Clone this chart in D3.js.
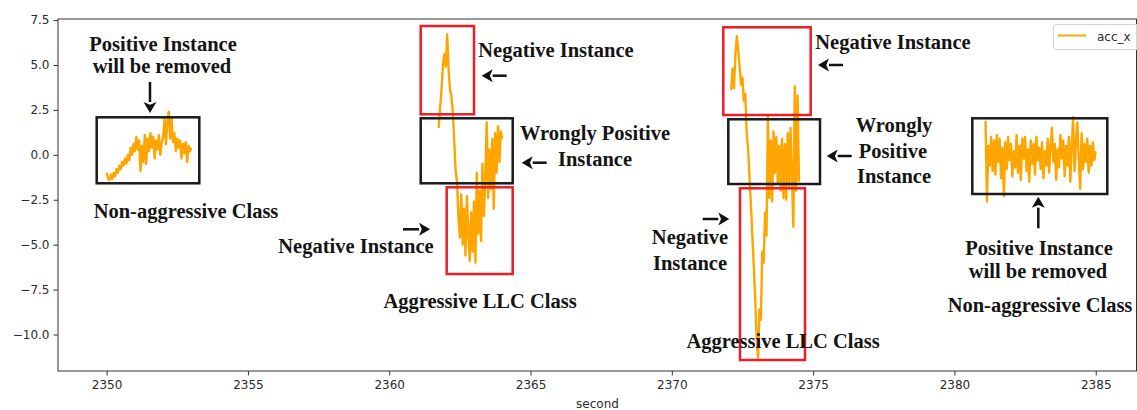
<!DOCTYPE html>
<html>
<head>
<meta charset="utf-8">
<script src="https://cdn.jsdelivr.net/npm/d3@7"></script>
<style>
  body { margin: 0; background: #fff; }
  svg { display: block; }
</style>
</head>
<body>
<svg id="chart" width="1137" height="410"></svg>
<script>
// acc_x recordings, four windows (seconds, acceleration)
const seg1Time = [2350.00,2350.05,2350.10,2350.15,2350.20,2350.25,2350.30,2350.35,2350.40,2350.45,
  2350.50,2350.55,2350.60,2350.65,2350.70,2350.75,2350.80,2350.85,2350.90,2350.95,
  2351.00,2351.05,2351.10,2351.15,2351.20,2351.25,2351.30,2351.35,2351.40,2351.45,
  2351.50,2351.55,2351.60,2351.65,2351.70,2351.75,2351.80,2351.85,2351.90,2351.95,
  2352.00,2352.05,2352.10,2352.15,2352.20,2352.25,2352.30,2352.35,2352.40,2352.45,
  2352.50,2352.55,2352.60,2352.65,2352.70,2352.75,2352.80,2352.85,2352.90,2352.95,2353.00];
const seg1Acc = [-1.0,-1.3,-1.4,-1.1,-1.35,-1.0,-1.2,-0.8,-1.0,-0.6,
  -0.8,-0.4,-0.6,-0.2,-0.5,0.0,-0.3,0.4,0.0,0.6,
  0.2,1.0,0.3,0.8,-0.9,0.5,-0.4,1.1,-0.5,0.9,
  0.2,1.2,0.4,1.0,-0.2,0.8,0.3,1.1,0.0,0.7,
  1.0,2.0,0.6,1.9,2.4,0.9,2.0,0.7,1.2,0.2,
  0.9,0.4,0.8,-0.2,0.6,0.1,0.7,-0.4,0.5,0.2,0.4];

const seg2Time = [2361.75,2361.80,2361.85,2361.90,2361.95,2362.00,2362.05,2362.10,2362.15,2362.20,
  2362.25,2362.30,2362.35,2362.40,2362.45,2362.50,2362.55,2362.60,2362.65,2362.70,
  2362.75,2362.80,2362.85,2362.90,2362.95,2363.00,2363.05,2363.10,2363.15,2363.20,
  2363.25,2363.30,2363.35,2363.40,2363.45,2363.50,2363.55,2363.60,2363.65,2363.70,
  2363.75,2363.80,2363.85,2363.90,2363.95,2364.00];
const seg2Acc = [1.5,2.6,3.6,5.0,5.6,4.9,6.7,4.8,3.6,3.3,
  2.4,0.8,-0.9,-1.5,-3.5,-4.6,-2.2,-5.0,-3.0,-5.6,
  -2.3,-4.4,-5.9,-3.2,-5.4,-2.6,-6.0,-1.0,-4.4,-2.0,
  -4.8,-0.5,-3.4,-1.2,1.8,-2.4,0.3,-1.9,0.9,-3.0,
  1.2,-1.0,1.6,-0.4,1.3,0.9];

const seg3Time = [2372.10,2372.15,2372.20,2372.25,2372.30,2372.35,2372.40,2372.45,2372.50,2372.55,
  2372.60,2372.65,2372.70,2372.75,2372.80,2372.85,2372.90,2372.95,2373.00,2373.05,
  2373.10,2373.15,2373.20,2373.25,2373.30,2373.35,2373.40,2373.45,2373.50,2373.55,
  2373.60,2373.65,2373.70,2373.75,2373.80,2373.85,2373.90,2373.95,2374.00,2374.05,
  2374.10,2374.15,2374.20,2374.25,2374.30,2374.35,2374.40,2374.45,2374.50];
const seg3Acc = [3.6,4.8,3.7,5.6,6.6,5.8,4.9,3.9,4.3,3.0,
  3.4,1.2,0.3,-1.3,-2.8,-4.5,-6.2,-8.0,-10.2,-11.3,
  -8.6,-9.2,-5.4,-6.0,-3.2,-4.5,2.2,-2.4,0.8,-2.6,
  1.3,-1.0,1.0,-1.6,0.5,-2.0,0.9,-2.4,0.6,-2.5,
  1.2,-1.8,1.5,-1.2,-4.0,3.8,-2.0,3.3,-1.5];

const seg4Time = [2381.10,2381.15,2381.20,2381.25,2381.30,2381.35,2381.40,2381.45,2381.50,2381.55,
  2381.60,2381.65,2381.70,2381.75,2381.80,2381.85,2381.90,2381.95,2382.00,2382.05,
  2382.10,2382.15,2382.20,2382.25,2382.30,2382.35,2382.40,2382.45,2382.50,2382.55,
  2382.60,2382.65,2382.70,2382.75,2382.80,2382.85,2382.90,2382.95,2383.00,2383.05,
  2383.10,2383.15,2383.20,2383.25,2383.30,2383.35,2383.40,2383.45,2383.50,2383.55,
  2383.60,2383.65,2383.70,2383.75,2383.80,2383.85,2383.90,2383.95,2384.00,2384.05,
  2384.10,2384.15,2384.20,2384.25,2384.30,2384.35,2384.40,2384.45,2384.50,2384.55,
  2384.60,2384.65,2384.70,2384.75,2384.80,2384.85,2384.90,2384.95,2385.00];
const seg4Acc = [1.9,-2.6,0.5,-0.6,1.0,-0.9,0.8,-1.1,1.1,-0.4,
  0.9,-1.3,0.4,-2.3,0.7,-0.8,1.0,-0.3,0.6,-1.2,
  0.2,-0.7,1.1,-1.0,0.5,-1.4,0.9,-0.2,1.0,-0.9,
  0.3,-1.5,0.8,-0.5,0.6,-1.1,1.0,-0.3,0.4,-0.8,
  0.7,-1.3,0.2,-0.6,0.9,-1.0,0.5,1.5,-0.4,0.6,
  -1.4,0.3,-0.7,1.1,-0.2,0.8,-1.2,0.5,-0.6,1.0,
  -1.5,0.4,2.1,-0.9,0.7,1.8,-0.3,-1.9,1.2,-0.8,
  0.6,-0.4,0.9,-1.0,0.5,-0.6,0.7,-0.3,0.2];

const xTicks = [2350, 2355, 2360, 2365, 2370, 2375, 2380, 2385];
const yTicks = [7.5, 5.0, 2.5, 0.0, -2.5, -5.0, -7.5, -10.0];
const seriesName = "acc_x";
const xLabel = "second";

// ---------------------------------------------------------------------------
const svg = d3.select("#chart");
const plot = { left: 58, right: 1136.5, top: 19, bottom: 371 };
const lineColor = "#ffa500";

const x = d3.scaleLinear().domain([2348.28, 2386.46]).range([58, 1137]);
const y = d3.scaleLinear().domain([-12.03, 7.56]).range([plot.bottom, plot.top]);

svg.append("defs").append("clipPath").attr("id", "plot-clip")
  .append("rect")
  .attr("x", plot.left).attr("y", plot.top)
  .attr("width", plot.right - plot.left).attr("height", plot.bottom - plot.top);

// axes
const tickFont = "'DejaVu Sans', sans-serif";
const fmt = d3.format(".1f");

const yAxis = svg.append("g")
  .attr("transform", `translate(${plot.left},0)`)
  .call(d3.axisLeft(y).tickValues(yTicks).tickFormat(fmt).tickSize(4.5).tickPadding(4));
const xAxis = svg.append("g")
  .attr("transform", `translate(0,${plot.bottom})`)
  .call(d3.axisBottom(x).tickValues(xTicks).tickFormat(d3.format("d")).tickSize(4.5).tickPadding(5));

[xAxis, yAxis].forEach(g => {
  g.select(".domain").remove();
  g.selectAll(".tick line").attr("stroke", "#333").attr("stroke-width", 1);
  g.selectAll(".tick text").attr("fill", "#2b2b2b")
    .style("font-family", tickFont).style("font-size", "12px");
});

// frame
svg.append("rect")
  .attr("x", plot.left).attr("y", plot.top)
  .attr("width", plot.right - plot.left).attr("height", plot.bottom - plot.top)
  .attr("fill", "none").attr("stroke", "#333").attr("stroke-width", 1);

svg.append("text")
  .attr("x", (58 + 1137) / 2).attr("y", 408)
  .attr("text-anchor", "middle")
  .attr("fill", "#2b2b2b")
  .style("font-family", tickFont).style("font-size", "12px")
  .text(xLabel);

// signal windows
const segments = [
  [seg1Time, seg1Acc],
  [seg2Time, seg2Acc],
  [seg3Time, seg3Acc],
  [seg4Time, seg4Acc]
];
const line = d3.line().x(d => x(d[0])).y(d => y(d[1]));

svg.append("g").attr("clip-path", "url(#plot-clip)")
  .selectAll("path")
  .data(segments.map(([t, v]) => t.map((ti, i) => [ti, v[i]])))
  .join("path")
  .attr("d", line)
  .attr("fill", "none")
  .attr("stroke", lineColor)
  .attr("stroke-width", 2.4)
  .attr("stroke-linejoin", "round");

// legend
const legend = svg.append("g");
legend.append("rect")
  .attr("x", 1053.5).attr("y", 24.5).attr("width", 90).attr("height", 25)
  .attr("rx", 3).attr("fill", "#fff").attr("fill-opacity", 0.8)
  .attr("stroke", "#d0d0d0").attr("stroke-width", 1);
legend.append("line")
  .attr("x1", 1058).attr("x2", 1086).attr("y1", 35.5).attr("y2", 35.5)
  .attr("stroke", lineColor).attr("stroke-width", 2);
legend.append("text")
  .attr("x", 1097).attr("y", 40.5)
  .attr("fill", "#2b2b2b")
  .style("font-family", tickFont).style("font-size", "12px")
  .text(seriesName);

// annotation overlay: instance boxes, arrows and labels
const boxes = [
  { x0: 96.7, y0: 117.3, x1: 199.3, y1: 183.3, c: "#1a1a1a" },
  { x0: 420.7, y0: 26, x1: 474, y1: 114.3, c: "#ee1c25" },
  { x0: 420.7, y0: 118.3, x1: 512.7, y1: 183.3, c: "#1a1a1a" },
  { x0: 446.7, y0: 187.3, x1: 512.7, y1: 274, c: "#ee1c25" },
  { x0: 723.3, y0: 27.3, x1: 810.7, y1: 115, c: "#ee1c25" },
  { x0: 728.3, y0: 119.3, x1: 820, y1: 184, c: "#1a1a1a" },
  { x0: 740, y0: 188.3, x1: 805, y1: 360, c: "#ee1c25" },
  { x0: 972.3, y0: 118.3, x1: 1107.3, y1: 194, c: "#1a1a1a" }
];
svg.append("g").selectAll("rect").data(boxes).join("rect")
  .attr("x", d => d.x0).attr("y", d => d.y0)
  .attr("width", d => d.x1 - d.x0).attr("height", d => d.y1 - d.y0)
  .attr("fill", "none").attr("stroke", d => d.c).attr("stroke-width", 2.5);

const arrows = [
  { x1: 150, y1: 82, x2: 150, y2: 113 },
  { x1: 506.7, y1: 75.7, x2: 481.7, y2: 75.7 },
  { x1: 546.7, y1: 162.7, x2: 521.7, y2: 162.7 },
  { x1: 403, y1: 229.3, x2: 430, y2: 229.3 },
  { x1: 843, y1: 65, x2: 818, y2: 65 },
  { x1: 851.7, y1: 156, x2: 826.7, y2: 156 },
  { x1: 702.7, y1: 219, x2: 729.3, y2: 219 },
  { x1: 1038.3, y1: 228.3, x2: 1038.3, y2: 196.7 }
];
const arrowG = svg.append("g");
arrows.forEach(a => {
  const ang = Math.atan2(a.y2 - a.y1, a.x2 - a.x1);
  const headLen = 11, headHalf = 6.5;
  const bx = a.x2 - headLen * Math.cos(ang), by = a.y2 - headLen * Math.sin(ang);
  arrowG.append("line")
    .attr("x1", a.x1).attr("y1", a.y1).attr("x2", bx).attr("y2", by)
    .attr("stroke", "#111").attr("stroke-width", 2.5);
  const px = -Math.sin(ang), py = Math.cos(ang);
  arrowG.append("polygon")
    .attr("points", [
      [a.x2, a.y2],
      [bx + headHalf * px, by + headHalf * py],
      [bx + headLen * 0.25 * Math.cos(ang), by + headLen * 0.25 * Math.sin(ang)],
      [bx - headHalf * px, by - headHalf * py]
    ].map(p => p.join(",")).join(" "))
    .attr("fill", "#111");
});

const labels = [
  { x: 163, y: 51, t: "Positive Instance" },
  { x: 162, y: 73, t: "will be removed" },
  { x: 186, y: 218, t: "Non-aggressive Class" },
  { x: 556, y: 57, t: "Negative Instance" },
  { x: 595, y: 140, t: "Wrongly Positive" },
  { x: 595, y: 166, t: "Instance" },
  { x: 356, y: 253, t: "Negative Instance" },
  { x: 480, y: 308, t: "Aggressive LLC Class" },
  { x: 893, y: 49, t: "Negative Instance" },
  { x: 894, y: 132, t: "Wrongly" },
  { x: 893, y: 158, t: "Positive" },
  { x: 894, y: 183, t: "Instance" },
  { x: 690, y: 244, t: "Negative" },
  { x: 690, y: 270, t: "Instance" },
  { x: 783, y: 348, t: "Aggressive LLC Class" },
  { x: 1039, y: 255, t: "Positive Instance" },
  { x: 1038, y: 278, t: "will be removed" },
  { x: 1040, y: 312, t: "Non-aggressive Class" }
];
svg.append("g").selectAll("text").data(labels).join("text")
  .attr("x", d => d.x).attr("y", d => d.y)
  .attr("text-anchor", "middle")
  .attr("fill", "#141414")
  .style("font-family", "'Liberation Serif', 'Times New Roman', serif")
  .style("font-weight", "bold")
  .style("font-size", "20.5px")
  .text(d => d.t);
</script>
</body>
</html>
